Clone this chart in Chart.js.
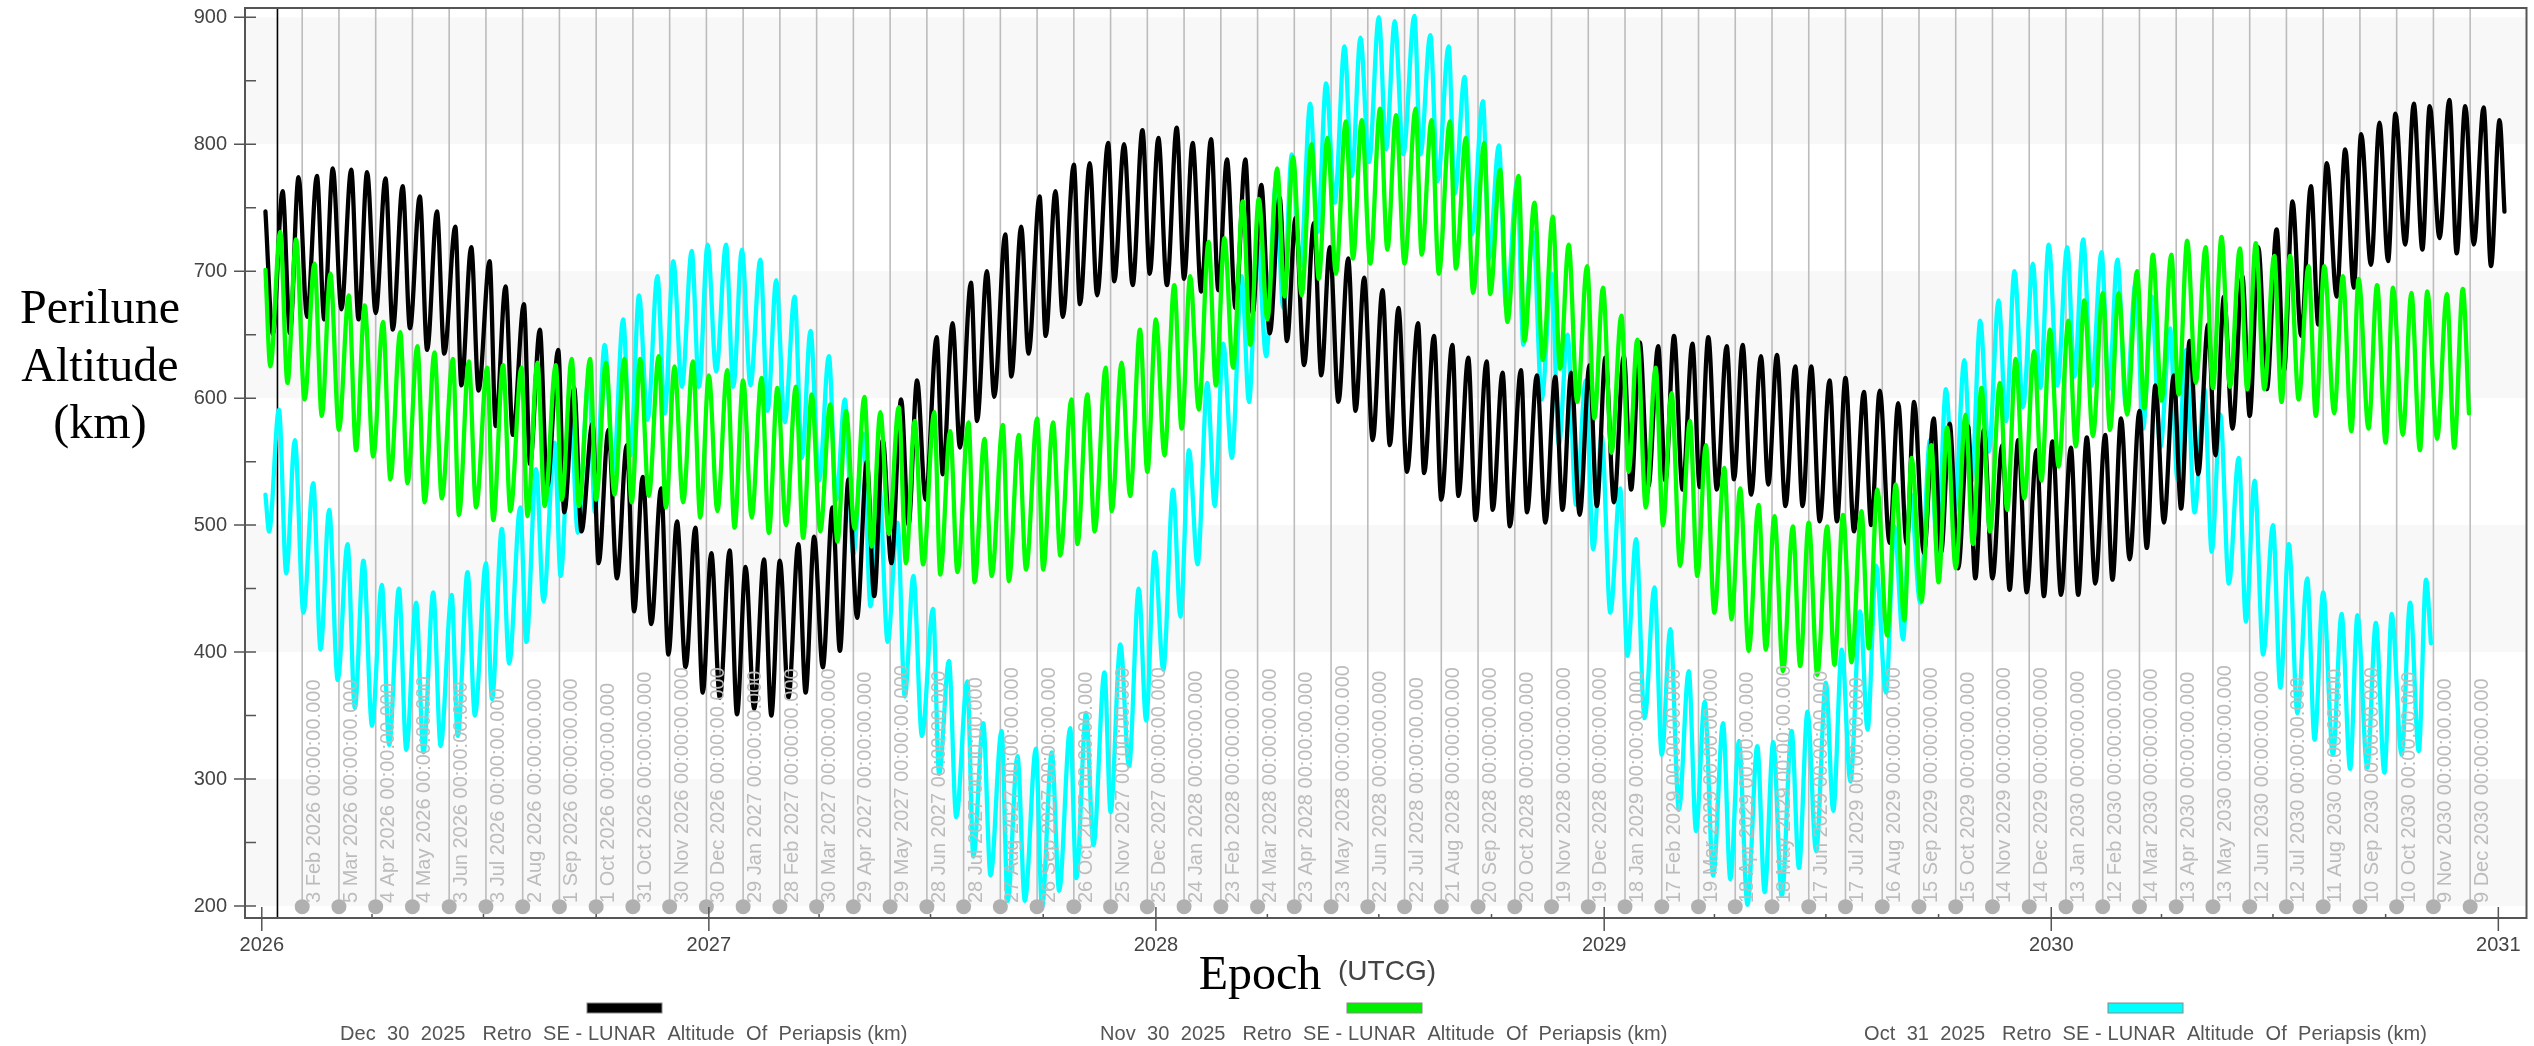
<!DOCTYPE html>
<html>
<head>
<meta charset="utf-8">
<title>Perilune Altitude</title>
<script src="https://cdn.jsdelivr.net/npm/chart.js@4/dist/chart.umd.min.js"></script>
<style>
  html, body { margin: 0; padding: 0; background: #fff; }
  canvas { display: block; }
</style>
</head>
<body>
<canvas id="line-chart" width="2534" height="1046"></canvas>
<script>
// days are counted from 1 Jan 2026
const yearLabels = ['2026', '2027', '2028', '2029', '2030', '2031'];
const yearDays = [0, 365, 730, 1096, 1461, 1826];
const yTicks = [200, 300, 400, 500, 600, 700, 800, 900];
const bandRanges = [[800, 900], [600, 700], [400, 500], [200, 300]];

const markerDates = [
  '3 Feb 2026', '5 Mar 2026', '4 Apr 2026', '4 May 2026', '3 Jun 2026', '3 Jul 2026', '2 Aug 2026', '1 Sep 2026',
  '1 Oct 2026', '31 Oct 2026', '30 Nov 2026', '30 Dec 2026', '29 Jan 2027', '28 Feb 2027', '30 Mar 2027', '29 Apr 2027',
  '29 May 2027', '28 Jun 2027', '28 Jul 2027', '27 Aug 2027', '26 Sep 2027', '26 Oct 2027', '25 Nov 2027', '25 Dec 2027',
  '24 Jan 2028', '23 Feb 2028', '24 Mar 2028', '23 Apr 2028', '23 May 2028', '22 Jun 2028', '22 Jul 2028', '21 Aug 2028',
  '20 Sep 2028', '20 Oct 2028', '19 Nov 2028', '19 Dec 2028', '18 Jan 2029', '17 Feb 2029', '19 Mar 2029', '18 Apr 2029',
  '18 May 2029', '17 Jun 2029', '17 Jul 2029', '16 Aug 2029', '15 Sep 2029', '15 Oct 2029', '14 Nov 2029', '14 Dec 2029',
  '13 Jan 2030', '12 Feb 2030', '14 Mar 2030', '13 Apr 2030', '13 May 2030', '12 Jun 2030', '12 Jul 2030', '11 Aug 2030',
  '10 Sep 2030', '10 Oct 2030', '9 Nov 2030', '9 Dec 2030',
];
const currentDay = 12.8;

// turning points of the curves
const peakDays = [
  17, 30, 45, 58, 73, 86, 101, 115, 129, 143, 158, 171, 186, 199, 214, 227, 242, 255, 270, 283,
  298, 311, 326, 339, 354, 367, 382, 395, 410, 423, 438, 451, 466, 479, 494, 507, 522, 535, 551, 564,
  579, 592, 607, 620, 635, 648, 663, 676, 691, 704, 719, 732, 747, 760, 775, 788, 803, 816, 831, 844,
  859, 872, 887, 900, 915, 928, 944, 957, 972, 985, 1000, 1013, 1028, 1041, 1056, 1069, 1084, 1097, 1112, 1125,
  1140, 1153, 1168, 1181, 1196, 1209, 1224, 1237, 1252, 1265, 1280, 1293, 1308, 1321, 1336, 1349, 1365, 1378, 1393, 1406,
  1421, 1434, 1449, 1462, 1477, 1490, 1505, 1518, 1533, 1546, 1561, 1574, 1589, 1602, 1617, 1630, 1645, 1658, 1673, 1686,
  1701, 1714, 1729, 1742, 1757, 1770, 1786, 1799, 1814, 1827,
];
const troughDays = [
  9, 23, 37, 51, 65, 79, 93, 107, 121, 135, 149, 163, 177, 191, 205, 219, 233, 247, 261, 275,
  290, 304, 318, 332, 346, 360, 374, 388, 402, 416, 430, 444, 458, 472, 486, 500, 514, 528, 542, 556,
  570, 584, 598, 612, 626, 640, 654, 668, 682, 696, 711, 725, 739, 753, 767, 781, 795, 809, 823, 837,
  851, 865, 879, 893, 907, 921, 935, 949, 963, 977, 991, 1005, 1019, 1033, 1048, 1062, 1076, 1090, 1104, 1118,
  1132, 1146, 1160, 1174, 1188, 1202, 1216, 1230, 1244, 1258, 1272, 1286, 1300, 1314, 1329, 1343, 1357, 1371, 1385, 1399,
  1413, 1427, 1441, 1455, 1469, 1483, 1497, 1511, 1525, 1539, 1553, 1567, 1581, 1595, 1609, 1623, 1637, 1651, 1665, 1679,
  1694, 1708, 1722, 1736, 1750, 1764, 1778, 1792, 1806, 1820,
];

const blackPeaks = [
  763, 774, 775, 781, 780, 778, 773, 767, 759, 747, 735, 719, 708, 688, 674, 654, 638, 608, 580, 575,
  563, 538, 529, 503, 498, 478, 480, 467, 473, 472, 485, 491, 514, 536, 550, 567, 599, 614, 648, 659,
  691, 700, 729, 735, 759, 763, 784, 785, 801, 800, 811, 805, 813, 801, 804, 788, 788, 768, 758, 742,
  738, 719, 710, 695, 685, 671, 659, 649, 642, 632, 629, 620, 622, 618, 617, 620, 626, 632, 633, 644,
  641, 649, 643, 648, 641, 642, 633, 634, 625, 625, 614, 616, 605, 606, 596, 597, 584, 580, 578, 575,
  563, 567, 559, 566, 561, 569, 571, 584, 590, 610, 618, 645, 658, 680, 696, 719, 733, 755, 767, 785,
  796, 808, 817, 824, 832, 830, 835, 830, 829, 819,
];
const blackTroughs = [
  650, 651, 664, 662, 670, 662, 667, 654, 655, 638, 635, 610, 606, 578, 571, 548, 530, 510, 495, 470,
  458, 432, 422, 398, 388, 368, 364, 351, 355, 350, 364, 368, 388, 401, 427, 444, 470, 500, 520, 540,
  561, 582, 601, 617, 635, 649, 664, 674, 681, 692, 689, 698, 689, 694, 684, 685, 671, 667, 651, 645,
  626, 618, 597, 590, 567, 563, 542, 541, 520, 523, 504, 512, 499, 510, 502, 512, 508, 515, 518, 528,
  530, 535, 528, 530, 528, 536, 524, 532, 515, 515, 503, 503, 495, 500, 486, 485, 478, 478, 466, 458,
  458, 449, 447, 444, 445, 445, 454, 457, 473, 482, 502, 513, 540, 555, 576, 586, 607, 622, 649, 658,
  680, 687, 705, 708, 721, 717, 726, 714, 721, 704,
];

const greenPeaks = [
  731, 725, 706, 698, 681, 673, 660, 652, 641, 636, 631, 629, 624, 626, 624, 628, 626, 631, 631, 628,
  631, 631, 633, 625, 629, 618, 622, 614, 616, 608, 609, 603, 595, 590, 601, 589, 593, 582, 589, 574,
  581, 568, 579, 571, 584, 581, 599, 603, 624, 628, 654, 662, 689, 696, 723, 726, 755, 757, 781, 790,
  800, 805, 818, 819, 828, 823, 828, 819, 818, 805, 801, 780, 775, 754, 743, 721, 704, 687, 665, 646,
  624, 604, 582, 563, 545, 529, 516, 507, 499, 502, 499, 508, 511, 528, 532, 553, 563, 577, 587, 608,
  612, 631, 637, 654, 661, 677, 683, 683, 700, 713, 713, 724, 719, 727, 718, 722, 712, 712, 704, 704,
  696, 694, 689, 687, 683, 684, 682, 686,
];
const greenTroughs = [
  625, 612, 599, 586, 575, 559, 554, 536, 533, 518, 521, 508, 514, 504, 511, 507, 515, 520, 515, 520,
  524, 518, 523, 514, 518, 506, 511, 498, 506, 494, 500, 490, 495, 487, 497, 483, 493, 470, 469, 461,
  463, 455, 460, 456, 465, 465, 476, 485, 495, 511, 523, 542, 555, 576, 591, 610, 624, 642, 662, 680,
  681, 694, 698, 710, 706, 717, 706, 713, 698, 702, 683, 682, 660, 645, 630, 623, 597, 584, 557, 542,
  514, 500, 468, 460, 431, 426, 401, 402, 385, 389, 382, 390, 392, 403, 413, 425, 440, 455, 466, 485,
  495, 512, 521, 535, 546, 562, 570, 575, 587, 592, 598, 603, 612, 608, 609, 607, 607, 597, 599, 586,
  588, 574, 576, 565, 571, 559, 568, 561,
];

const cyanPeaks = [
  591, 567, 533, 512, 485, 472, 453, 450, 439, 447, 445, 463, 470, 497, 514, 544, 565, 593, 617, 642,
  662, 681, 696, 708, 716, 721, 721, 717, 709, 693, 680, 653, 633, 599, 572, 532, 502, 460, 434, 393,
  377, 344, 338, 318, 324, 321, 340, 352, 384, 406, 450, 479, 528, 559, 612, 643, 696, 723, 769, 792,
  832, 848, 877, 884, 900, 897, 901, 886, 877, 853, 834, 799, 771, 731, 698, 650, 614, 570, 529, 489,
  451, 418, 385, 361, 344, 330, 326, 329, 338, 353, 376, 402, 432, 468, 499, 525, 567, 607, 630, 661,
  677, 700, 706, 721, 719, 725, 715, 709, 692, 680, 655, 638, 607, 587, 553, 535, 500, 485, 458, 447,
  430, 429, 423, 430, 439, 457,
];
const cyanTroughs = [
  495, 462, 431, 402, 378, 356, 342, 327, 323, 321, 326, 334, 350, 363, 391, 408, 440, 460, 494, 510,
  542, 555, 583, 588, 609, 609, 621, 609, 610, 590, 581, 553, 535, 520, 477, 436, 408, 365, 334, 304,
  270, 239, 224, 204, 204, 199, 212, 222, 248, 274, 310, 346, 386, 428, 469, 515, 553, 597, 633, 671,
  704, 731, 754, 775, 786, 796, 792, 792, 771, 761, 729, 710, 671, 642, 599, 563, 516, 481, 431, 397,
  348, 319, 276, 259, 224, 221, 201, 211, 208, 230, 243, 275, 298, 339, 368, 410, 439, 478, 510, 535,
  558, 582, 593, 608, 610, 617, 610, 607, 593, 576, 561, 536, 510, 479, 454, 424, 398, 372, 352, 331,
  319, 308, 309, 305, 319, 322,
];

const seriesNames = [
  'Dec  30  2025   Retro  SE - LUNAR  Altitude  Of  Periapsis (km)',
  'Nov  30  2025   Retro  SE - LUNAR  Altitude  Of  Periapsis (km)',
  'Oct  31  2025   Retro  SE - LUNAR  Altitude  Of  Periapsis (km)',
];

const markerDay = (label) => (Date.parse(label + ' UTC') - Date.UTC(2026, 0, 1)) / 864e5;

function curve(startValue, peaks, troughs, shift, endDay, endValue) {
  const points = [{ x: 3, y: startValue }];
  peaks.forEach((peak, i) => {
    points.push({ x: troughDays[i] + shift, y: troughs[i] });
    points.push({ x: peakDays[i] + shift, y: peak });
  });
  points.push({ x: endDay, y: endValue });
  return points;
}

function lineSet(label, color, order, data) {
  return {
    label, data, order,
    borderColor: color,
    backgroundColor: color,
    borderWidth: 4.3,
    pointRadius: 0,
    cubicInterpolationMode: 'monotone',
    borderJoinStyle: 'round',
    borderCapStyle: 'round',
  };
}

const quarterDays = [];
yearDays.slice(0, -1).forEach((day, i) => {
  [3, 6, 9].forEach((month) => {
    quarterDays.push((Date.UTC(2026 + i, month, 1) - Date.UTC(2026, 0, 1)) / 864e5);
  });
});

const plotDecor = {
  id: 'plotDecor',
  beforeDatasetsDraw(chart) {
    const { ctx, chartArea: area, scales: { x, y } } = chart;
    ctx.save();
    ctx.fillStyle = '#f8f8f8';
    bandRanges.forEach(([low, high]) => {
      const top = y.getPixelForValue(high);
      ctx.fillRect(area.left, top, area.width, y.getPixelForValue(low) - top);
    });
    ctx.strokeStyle = '#bcbcbc';
    ctx.lineWidth = 1.6;
    markerDates.forEach((label) => {
      const px = x.getPixelForValue(markerDay(label));
      ctx.beginPath();
      ctx.moveTo(px, area.top);
      ctx.lineTo(px, y.getPixelForValue(200));
      ctx.stroke();
    });
    const nowX = x.getPixelForValue(currentDay);
    ctx.strokeStyle = '#000';
    ctx.lineWidth = 1.6;
    ctx.beginPath();
    ctx.moveTo(nowX, area.top);
    ctx.lineTo(nowX, area.bottom);
    ctx.stroke();
    ctx.restore();
  },
  afterDatasetsDraw(chart) {
    const { ctx, chartArea: area, scales: { x, y } } = chart;
    ctx.save();
    // date labels sit on top of the curves
    ctx.fillStyle = '#bcbcbc';
    ctx.font = '20px "Liberation Sans"';
    ctx.textBaseline = 'alphabetic';
    markerDates.forEach((label) => {
      ctx.save();
      ctx.translate(x.getPixelForValue(markerDay(label)) + 18, area.bottom - 15);
      ctx.rotate(-Math.PI / 2);
      ctx.fillText(label + ' 00:00:00.000', 0, 0);
      ctx.restore();
    });

    ctx.strokeStyle = '#555';
    ctx.lineWidth = 2;
    ctx.strokeRect(area.left, area.top, area.width, area.height);
    ctx.lineWidth = 1.5;
    ctx.beginPath();
    for (let value = 200; value <= 900; value += 50) {
      const py = y.getPixelForValue(value);
      ctx.moveTo(area.left - (value % 100 === 0 ? 11 : 0), py);
      ctx.lineTo(area.left + 11, py);
    }
    yearDays.forEach((day) => {
      const px = x.getPixelForValue(day);
      ctx.moveTo(px, area.bottom - 11);
      ctx.lineTo(px, area.bottom + 13);
    });
    quarterDays.forEach((day) => {
      const px = x.getPixelForValue(day);
      ctx.moveTo(px, area.bottom - 4);
      ctx.lineTo(px, area.bottom);
    });
    ctx.stroke();

    // axis captions
    ctx.fillStyle = '#000';
    ctx.font = '48px "Liberation Serif"';
    ctx.textAlign = 'center';
    ctx.textBaseline = 'middle';
    ctx.fillText('Perilune', 100, 310);
    ctx.fillText('Altitude', 100, 368);
    ctx.fillText('(km)', 100, 425);
    ctx.fillText('Epoch', 1260, 976);
    ctx.fillStyle = '#444';
    ctx.font = '28px "Liberation Sans"';
    ctx.fillText('(UTCG)', 1387, 972);

    // legend
    const swatches = [[587, '#000000', 340], [1347, '#00ee00', 1100], [2108, '#00ffff', 1864]];
    ctx.textAlign = 'left';
    ctx.font = '20px "Liberation Sans"';
    ctx.letterSpacing = '0.08px';
    swatches.forEach(([left, color, textLeft], i) => {
      ctx.fillStyle = color;
      ctx.fillRect(left, 1003, 75, 10);
      ctx.strokeStyle = '#888';
      ctx.lineWidth = 1;
      ctx.strokeRect(left, 1003, 75, 10);
      ctx.fillStyle = '#555';
      ctx.fillText(seriesNames[i], textLeft, 1034);
    });
    ctx.restore();
  },
};

new Chart(document.getElementById('line-chart'), {
  type: 'line',
  data: {
    datasets: [
      lineSet(seriesNames[1], '#00ff00', 1, curve(701, greenPeaks, greenTroughs, -2, 1802, 588)),
      lineSet(seriesNames[0], '#000000', 2, curve(747, blackPeaks, blackTroughs, 0, 1831, 747)),
      lineSet(seriesNames[2], '#00ffff', 3, curve(524, cyanPeaks, cyanTroughs, -3, 1771, 407)),
      {
        label: 'markers',
        data: markerDates.map((label) => ({ x: markerDay(label), y: 199.5 })),
        order: 0,
        showLine: false,
        pointRadius: 7.5,
        pointBackgroundColor: '#b0b0b0',
        pointBorderColor: '#b0b0b0',
        pointBorderWidth: 0,
      },
    ],
  },
  options: {
    responsive: false,
    animation: false,
    layout: { padding: { top: 8, right: 2, left: 0, bottom: 0 } },
    plugins: { legend: { display: false }, tooltip: { enabled: false } },
    scales: {
      x: {
        type: 'linear',
        min: -13.7,
        max: 1849,
        afterBuildTicks(scale) { scale.ticks = yearDays.map((value) => ({ value })); },
        afterFit(scale) { scale.height = 128; scale.paddingLeft = 0; scale.paddingRight = 0; },
        grid: { display: false, drawTicks: false },
        border: { display: false },
        ticks: {
          autoSkip: false,
          maxRotation: 0,
          padding: 15,
          color: '#444',
          font: { family: '"Liberation Sans"', size: 20 },
          callback: (value) => yearLabels[yearDays.indexOf(value)],
        },
      },
      y: {
        min: 190.55,
        max: 907.3,
        afterBuildTicks(scale) { scale.ticks = yTicks.map((value) => ({ value })); },
        afterFit(scale) { scale.width = 245; scale.paddingTop = 0; scale.paddingBottom = 0; },
        grid: { display: false, drawTicks: false },
        border: { display: false },
        ticks: {
          padding: 18,
          color: '#444',
          font: { family: '"Liberation Sans"', size: 20 },
        },
      },
    },
  },
  plugins: [plotDecor],
});
</script>
</body>
</html>
